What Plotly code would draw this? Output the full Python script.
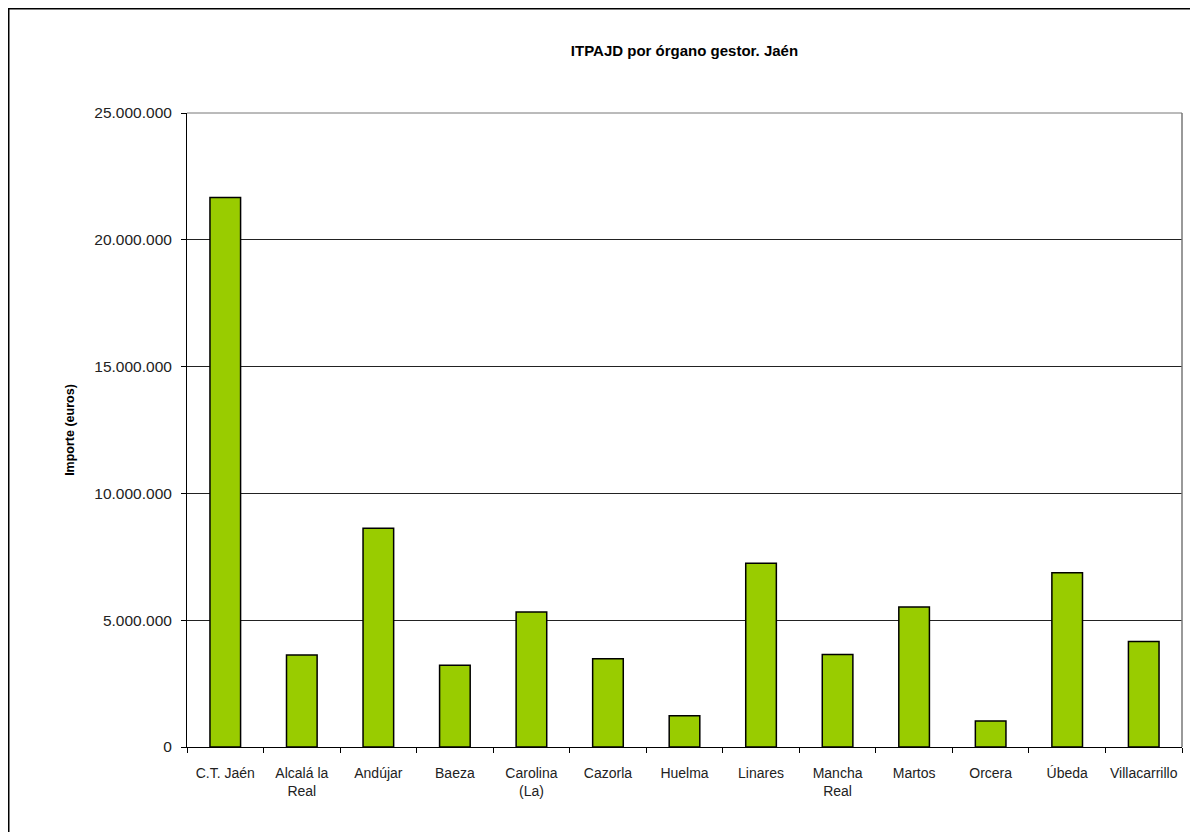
import plotly.graph_objects as go

categories = ["C.T. Jaén", "Alcalá la<br>Real", "Andújar", "Baeza", "Carolina<br>(La)", "Cazorla",
              "Huelma", "Linares", "Mancha<br>Real", "Martos", "Orcera", "Úbeda", "Villacarrillo"]
values = [21670000, 3630000, 8630000, 3220000, 5320000, 3480000, 1230000, 7250000,
          3650000, 5520000, 1030000, 6870000, 4160000]
tick_vals = [0, 5000000, 10000000, 15000000, 20000000, 25000000]
tick_text = ["0", "5.000.000", "10.000.000", "15.000.000", "20.000.000", "25.000.000"]

FONT = "Liberation Sans, Arial, sans-serif"

W, H = 1190, 824
L, T, R, B = 179, 105, 16, 85
pw = W - L - R
ph = H - T - B

fig = go.Figure(go.Bar(
    x=categories, y=values,
    marker=dict(color="#99CC00", line=dict(color="#000000", width=1.5)),
))

fig.update_layout(
    width=W, height=H,
    margin=dict(l=L, r=R, t=T, b=B, autoexpand=False),
    paper_bgcolor="white", plot_bgcolor="white",
    bargap=0.6,
    showlegend=False,
    font=dict(family=FONT, size=15, color="#000"),
    title=dict(text="<b>ITPAJD por órgano gestor. Jaén</b>", x=0.5, xref="paper", xanchor="center",
               y=1 - 43 / H, yanchor="middle", font=dict(size=15, family=FONT)),
    xaxis=dict(showline=True, linecolor="#000", linewidth=1, ticks="outside", ticklen=5,
               tickcolor="#000", tickson="boundaries", showgrid=False, tickangle=0,
               automargin=False, ticklabelstandoff=13,
               tickfont=dict(size=14, family=FONT, color="#222")),
    yaxis=dict(range=[0, 25000000], tickvals=tick_vals, ticktext=tick_text,
               showline=True, linecolor="#000", linewidth=1, ticks="outside", ticklen=5,
               tickcolor="#000", showgrid=True, gridcolor="#222", gridwidth=1,
               zeroline=False, automargin=False, ticklabelstandoff=6,
               tickfont=dict(size=15.5, family=FONT, color="#222"),
               title=dict(text="<b>Importe (euros)</b>", font=dict(size=12.5, family=FONT), standoff=16)),
    shapes=[
        dict(type="line", xref="paper", yref="paper", x0=1, x1=1, y0=0, y1=1,
             line=dict(color="#777", width=1.5), layer="above"),
        dict(type="line", xref="paper", yref="paper", x0=0, x1=1, y0=1, y1=1,
             line=dict(color="#777", width=1), layer="above"),
        dict(type="rect", xref="paper", yref="paper",
             x0=(0.75 - L) / pw, x1=(W + 20 - L) / pw, y0=-(B + 20) / ph, y1=(ph + T - 0.75) / ph,
             line=dict(color="#000", width=1.5), fillcolor="rgba(0,0,0,0)", layer="below"),
    ],
)

fig.write_html("out.html")
